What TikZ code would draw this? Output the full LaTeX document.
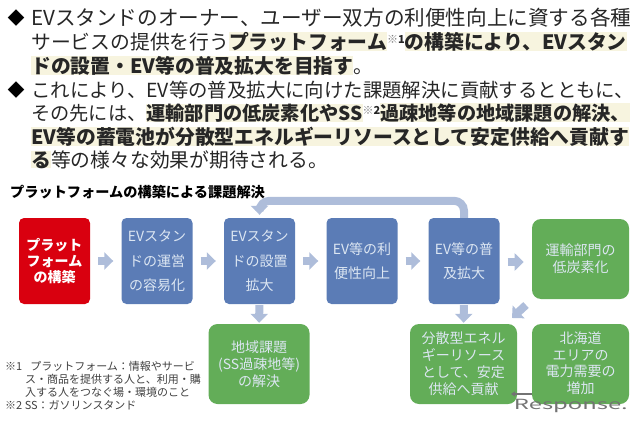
\documentclass[tikz,border=0pt]{standalone}
\usepackage{fontspec}
\setmainfont{Noto Sans CJK JP}
\usetikzlibrary{arrows.meta}
\definecolor{stdblue}{HTML}{5B7CB6}
\definecolor{stdgreen}{HTML}{63AD58}
\definecolor{stdred}{HTML}{D9000F}
\definecolor{flowarrow}{HTML}{AEBDDA}
\definecolor{boxtext}{HTML}{DCE6F2}
\definecolor{glowcol}{HTML}{F7F4DF}
\setlength{\fboxsep}{0pt}
% bold run on its soft glow
\newcommand{\glow}[1]{\colorbox{glowcol}{\textbf{#1}}}
\newcommand{\notemark}[1]{\raisebox{6pt}{\fontsize{11}{11}\selectfont\textcolor{gray}{※}\textbf{#1}}}
\newcommand{\widecolon}{\symbol{"FF1A}}
\tikzset{
  leadline/.style={anchor=base west, inner sep=0pt, font=\fontsize{19.8}{20}\selectfont, text=black!85},
  notemarker/.style={inner sep=0pt, font=\fontsize{17}{17}\selectfont},
  notetext/.style={anchor=base west, inner sep=0pt, font=\fontsize{11}{11}\selectfont, text=black!75},
  stepbox/.style={rounded corners=5pt, inner sep=0pt, align=center, text=boxtext, minimum width=71pt, minimum height=86pt, fill=stdblue, font=\fontsize{14}{24.5}\selectfont},
  goalbox/.style={stepbox, rounded corners=9pt, fill=stdgreen, font=\fontsize{14}{17}\selectfont},
  startbox/.style={stepbox, fill=stdred, text=white, font=\fontsize{14}{16}\selectfont\bfseries},
  flowline/.style={draw=flowarrow, line width=8pt, -{Triangle[length=9pt,width=17pt]}, shorten >=8pt, shorten <=8pt},
}
\begin{document}
\begin{tikzpicture}[x=1pt,y=-1pt]
\useasboundingbox (0,0) rectangle (640,423);
% lead text
\node[notemarker] (mark1) at (16,18) {◆};
\node[leadline, font=\fontsize{20.6}{20}\selectfont] (line1) at (31,25) {EVスタンドのオーナー、ユーザー双方の利便性向上に資する各種};
\node[leadline] (line2) at (31,49) {サービスの提供を行う\glow{プラットフォーム}\notemark{1}\glow{の構築により、EVスタン}};
\node[leadline] (line3) at (31,73) {\glow{ドの設置・EV等の普及拡大を目指す}。};
\node[notemarker] (mark2) at (16,90) {◆};
\node[leadline, font=\fontsize{19.4}{20}\selectfont] (line4) at (31,97) {これにより、EV等の普及拡大に向けた課題解決に貢献するとともに、};
\node[leadline, font=\fontsize{19.2}{20}\selectfont] (line5) at (31,120) {その先には、\glow{運輸部門の低炭素化やSS}\notemark{2}\glow{過疎地等の地域課題の解決、}};
\node[leadline] (line6) at (31,144) {\glow{EV等の蓄電池が分散型エネルギーリソースとして安定供給へ貢献す}};
\node[leadline] (line7) at (31,167) {\glow{る}等の様々な効果が期待される。};
\node[anchor=base west, inner sep=0pt, font=\fontsize{14.2}{14.2}\selectfont\bfseries] (heading) at (10,197) {プラットフォームの構築による課題解決};
% flow
\node[startbox] (plat) at (54.5,261) {プラット\\フォーム\\の構築};
\node[stepbox] (oper) at (157,261) {EVスタン\\ドの運営\\の容易化};
\node[stepbox] (inst) at (259.5,261) {EVスタン\\ドの設置\\拡大};
\node[stepbox] (conv) at (362,261) {EV等の利\\便性向上};
\node[stepbox] (spread) at (464,261) {EV等の普\\及拡大};
\node[goalbox, minimum width=97pt, minimum height=80pt] (lowc) at (580.5,259) {運輸部門の\\低炭素化};
\node[goalbox, minimum width=101pt, minimum height=80pt] (local) at (259,364) {地域課題\\(SS過疎地等)\\の解決};
\node[goalbox, minimum width=107pt, minimum height=80pt] (grid) at (463.5,364) {分散型エネル\\ギーリソース\\として、安定\\供給へ貢献};
\node[goalbox, minimum width=97pt, minimum height=80pt, font=\fontsize{14}{16.5}\selectfont, text depth=3pt] (hokk) at (580.5,364) {北海道\\エリアの\\電力需要の\\増加};
\draw[flowline] (plat) -- (oper);
\draw[flowline] (oper) -- (inst);
\draw[flowline] (inst) -- (conv);
\draw[flowline] (conv) -- (spread);
\draw[flowline] (spread.east |- lowc.center) ++(0,3) -- ++(32,0);
\draw[flowline, shorten >=1pt, shorten <=1pt] (inst) -- (local);
\draw[flowline, shorten >=1pt, shorten <=1pt] (spread) -- (grid);
\coordinate (tailend) at (526,305);
\coordinate (tipend) at (512,318);
\draw[flowline, shorten >=0pt, shorten <=0pt] (tailend) -- (tipend);
\draw[flowline, rounded corners=10pt, shorten >=3pt, shorten <=0pt] (spread.north) -- ++(0,-17) -| (inst.north);
% notes
\node[notetext] (note1) at (5,370) {※1\hspace{8pt}プラットフォーム\widecolon 情報やサービ};
\node[notetext] (note2) at (25,383) {ス・商品を提供する人と、利用・購};
\node[notetext] (note3) at (25,396) {入する人をつなぐ場・環境のこと};
\node[notetext] (note4) at (5,409) {※2 SS\widecolon ガソリンスタンド};
% logo
\node[anchor=base east, inner sep=0pt, font=\fontsize{14}{14}\selectfont, text=black!55] (logo) at (628,409) {\scalebox{1.7}[1]{Response.}};
\draw[black!55, line width=1.5pt, -{Triangle[length=4pt,width=5pt]}] (532,394) -- (511,394);
\end{tikzpicture}
\end{document}
